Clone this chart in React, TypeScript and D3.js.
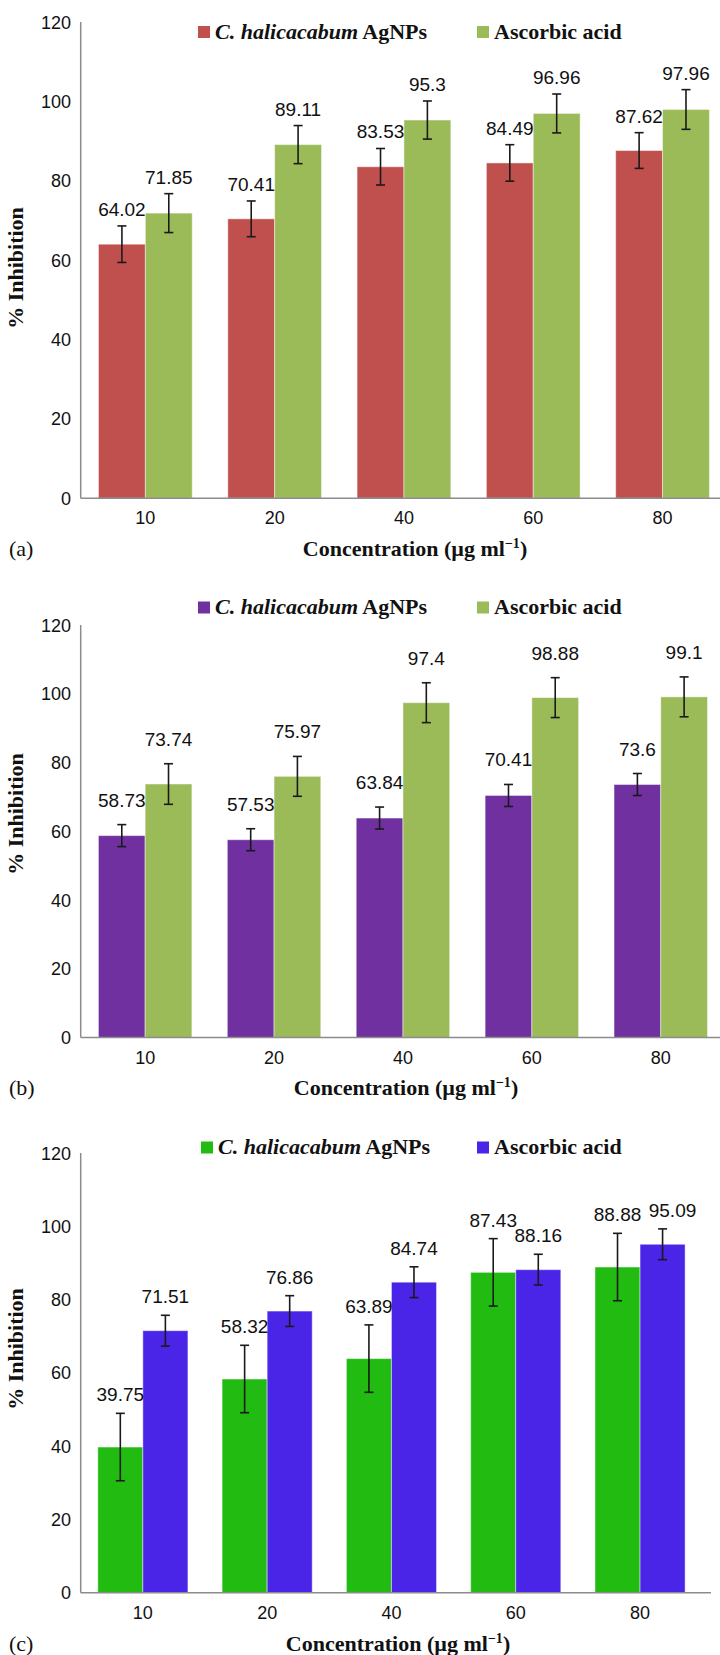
import React, { useEffect, useRef } from 'react';
import * as d3 from 'd3';

const concentrations = ['10', '20', '40', '60', '80'];
const yTicks = [0, 20, 40, 60, 80, 100, 120];
const seriesNames = ['C. halicacabum', 'Ascorbic acid'];

// (a)
const agnpsA = [64.02, 70.41, 83.53, 84.49, 87.62];
const ascorbicA = [71.85, 89.11, 95.3, 96.96, 97.96];
const agnpsErrA = [4.6, 4.5, 4.6, 4.6, 4.5];
const ascorbicErrA = [4.9, 4.8, 4.8, 4.9, 5.0];

// (b)
const agnpsB = [58.73, 57.53, 63.84, 70.41, 73.6];
const ascorbicB = [73.74, 75.97, 97.4, 98.88, 99.1];
const agnpsErrB = [3.2, 3.2, 3.2, 3.2, 3.2];
const ascorbicErrB = [5.9, 5.8, 5.8, 5.8, 5.8];

// (c)
const agnpsC = [39.75, 58.32, 63.89, 87.43, 88.88];
const ascorbicC = [71.51, 76.86, 84.74, 88.16, 95.09];
const agnpsErrC = [9.2, 9.2, 9.2, 9.2, 9.2];
const ascorbicErrC = [4.2, 4.2, 4.2, 4.2, 4.2];

interface Panel {
  tag: string;
  values: number[][];
  errors: number[][];
  colors: string[];
  top: number;
  bottom: number;
  step: number;
  axisEnd: number;
  legendY: number;
  legendX: number;
  xTickY: number;
  titleX: number;
  titleY: number;
  yTitleY: number;
  labelGap: number;
}

const panels: Panel[] = [
  {
    tag: '(a)', values: [agnpsA, ascorbicA], errors: [agnpsErrA, ascorbicErrA],
    colors: ['#c0504d', '#9bbb59'], top: 22, bottom: 498.3, step: 129.3, axisEnd: 720,
    legendY: 32, legendX: 198, xTickY: 524, titleX: 415, titleY: 556, yTitleY: 268, labelGap: 10,
  },
  {
    tag: '(b)', values: [agnpsB, ascorbicB], errors: [agnpsErrB, ascorbicErrB],
    colors: ['#7030a0', '#9bbb59'], top: 625, bottom: 1037.5, step: 128.9, axisEnd: 720,
    legendY: 607.5, legendX: 198, xTickY: 1063.5, titleX: 406, titleY: 1095, yTitleY: 814, labelGap: 18,
  },
  {
    tag: '(c)', values: [agnpsC, ascorbicC], errors: [agnpsErrC, ascorbicErrC],
    colors: ['#22bb11', '#4a25e8'], top: 1153, bottom: 1592.7, step: 124.3, axisEnd: 711,
    legendY: 1147.5, legendX: 201, xTickY: 1619, titleX: 398, titleY: 1651, yTitleY: 1349, labelGap: 12,
  },
];

const SANS = 'Liberation Sans, Arial, sans-serif';
const SERIF = 'Liberation Serif, Times New Roman, serif';
const AXIS_X = 80.7;

const App: React.FC = () => {
  const svgRef = useRef<SVGSVGElement>(null);

  useEffect(() => {
    if (!svgRef.current) return;
    const svg = d3.select(svgRef.current);
    svg.selectAll('*').remove();

    panels.forEach((p) => {
      const g = svg.append('g');
      const y = d3.scaleLinear().domain([0, 120]).range([p.bottom, p.top]);
      const x0 = d3.scaleBand<string>()
        .domain(concentrations)
        .range([AXIS_X, AXIS_X + p.step * concentrations.length])
        .paddingInner(0.275)
        .paddingOuter(0.1375);
      const x1 = d3.scaleBand<number>().domain([0, 1]).range([0, x0.bandwidth()]);

      // y tick labels
      g.selectAll('text.ytick').data(yTicks).enter().append('text')
        .attr('x', 71).attr('y', (d) => y(d) + 6.5)
        .attr('text-anchor', 'end')
        .attr('font-family', SANS).attr('font-size', 18).attr('fill', '#111')
        .text((d) => d);

      // bars
      p.values.forEach((vals, s) => {
        g.selectAll(`rect.s${s}`).data(vals).enter().append('rect')
          .attr('x', (_, i) => (x0(concentrations[i]) ?? 0) + (x1(s) ?? 0))
          .attr('y', (d) => y(d))
          .attr('width', x1.bandwidth())
          .attr('height', (d) => p.bottom - y(d))
          .attr('fill', p.colors[s])
          .attr('stroke', 'rgba(255,255,255,0.45)')
          .attr('stroke-width', 1);
      });

      // error bars + value labels
      concentrations.forEach((c, i) => {
        const placed: { x: number; y: number }[] = [];
        p.values.forEach((vals, s) => {
          const v = vals[i];
          const e = p.errors[s][i];
          const cx = (x0(c) ?? 0) + (x1(s) ?? 0) + x1.bandwidth() / 2;
          const eb = g.append('g').attr('stroke', '#1a1a1a').attr('stroke-width', 1.6);
          eb.append('line').attr('x1', cx).attr('x2', cx).attr('y1', y(v + e)).attr('y2', y(v - e));
          eb.append('line').attr('x1', cx - 4.5).attr('x2', cx + 4.5).attr('y1', y(v + e)).attr('y2', y(v + e));
          eb.append('line').attr('x1', cx - 4.5).attr('x2', cx + 4.5).attr('y1', y(v - e)).attr('y2', y(v - e));

          // nudge a label right when it would sit on top of its neighbour
          let lx = cx;
          const ly = y(v + e) - p.labelGap;
          placed.forEach((q) => {
            if (Math.abs(q.y - ly) < 14 && lx - q.x < 55) lx = q.x + 55;
          });
          placed.push({ x: lx, y: ly });
          g.append('text')
            .attr('x', lx).attr('y', ly)
            .attr('text-anchor', 'middle')
            .attr('font-family', SANS).attr('font-size', 19).attr('fill', '#111')
            .text(v);
        });
      });

      // axes
      g.append('line').attr('x1', AXIS_X).attr('x2', AXIS_X).attr('y1', p.top).attr('y2', p.bottom)
        .attr('stroke', '#8c8c8c').attr('stroke-width', 1.5);
      g.append('line').attr('x1', AXIS_X).attr('x2', p.axisEnd).attr('y1', p.bottom).attr('y2', p.bottom)
        .attr('stroke', '#8c8c8c').attr('stroke-width', 1.5);

      // x tick labels
      g.selectAll('text.xtick').data(concentrations).enter().append('text')
        .attr('x', (d) => (x0(d) ?? 0) + x0.bandwidth() / 2)
        .attr('y', p.xTickY)
        .attr('text-anchor', 'middle')
        .attr('font-family', SANS).attr('font-size', 18).attr('fill', '#111')
        .text((d) => d);

      // x title
      const xt = g.append('text')
        .attr('x', p.titleX).attr('y', p.titleY)
        .attr('text-anchor', 'middle')
        .attr('font-family', SERIF).attr('font-size', 22).attr('font-weight', 'bold').attr('fill', '#111');
      xt.append('tspan').text('Concentration (µg ml');
      xt.append('tspan').attr('dy', -8).attr('font-size', 14).text('−1');
      xt.append('tspan').attr('dy', 8).text(')');

      // panel tag
      g.append('text').attr('x', 9).attr('y', p.titleY)
        .attr('font-family', SERIF).attr('font-size', 22).attr('fill', '#111')
        .text(p.tag);

      // y title
      g.append('text')
        .attr('transform', `translate(23, ${p.yTitleY}) rotate(-90)`)
        .attr('text-anchor', 'middle')
        .attr('font-family', SERIF).attr('font-size', 22).attr('font-weight', 'bold').attr('fill', '#111')
        .text('% Inhibition');

      // legend
      const lg = g.append('g').attr('font-family', SERIF).attr('font-size', 22)
        .attr('font-weight', 'bold').attr('fill', '#111');
      lg.append('rect').attr('x', p.legendX).attr('y', p.legendY - 6).attr('width', 12).attr('height', 12)
        .attr('fill', p.colors[0]);
      const t1 = lg.append('text').attr('x', p.legendX + 17).attr('y', p.legendY + 6.5);
      t1.append('tspan').attr('font-style', 'italic').text(seriesNames[0]);
      t1.append('tspan').text(' AgNPs');
      lg.append('rect').attr('x', 477).attr('y', p.legendY - 6).attr('width', 12).attr('height', 12)
        .attr('fill', p.colors[1]);
      lg.append('text').attr('x', 494).attr('y', p.legendY + 6.5).text(seriesNames[1]);
    });
  }, []);

  return (
    <div style={{ position: 'absolute', left: 0, top: 0 }}>
      <svg ref={svgRef} width="720" height="1655" viewBox="0 0 720 1655" style={{ display: 'block', background: '#fff' }}></svg>
    </div>
  );
};

export default App;
